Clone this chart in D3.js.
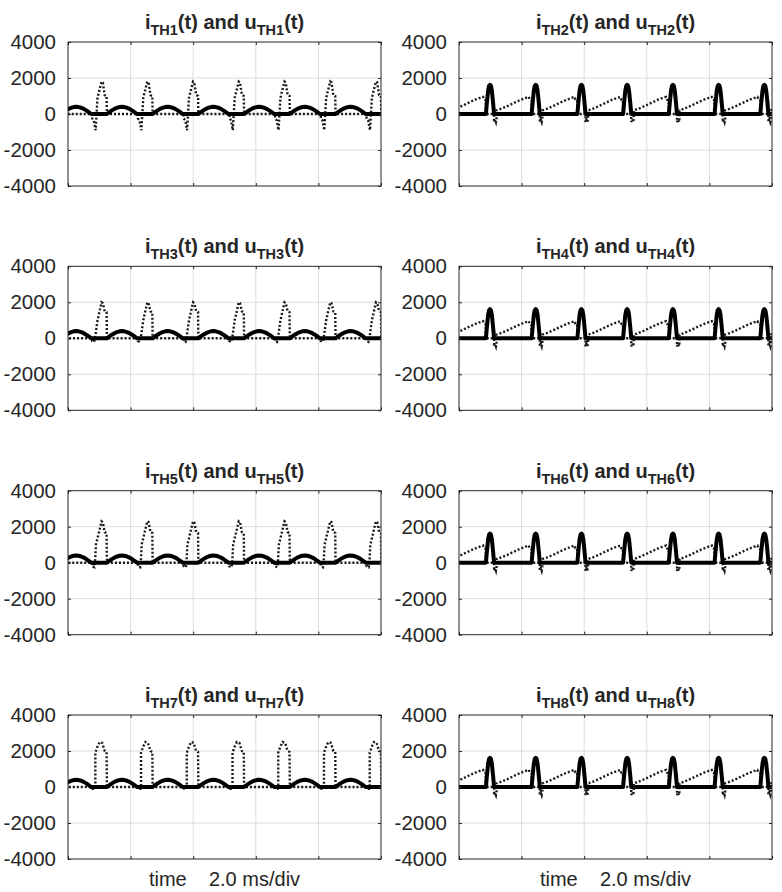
<!DOCTYPE html>
<html>
<head>
<meta charset="utf-8">
<script src="https://cdn.jsdelivr.net/npm/d3@7"></script>
<style>
  body { margin: 0; background: #fff; }
  svg { display: block; }
  text { font-family: "Liberation Sans", Arial, Helvetica, sans-serif; fill: #262626; }
</style>
</head>
<body>
<svg id="fig" width="782" height="892"></svg>
<script>
// ---- axes ----
const timeDomain = [0, 10];                 // ms, 2.0 ms/div
const timeTicks = [0, 2, 4, 6, 8, 10];
const valueDomain = [-4000, 4000];
const valueTicks = [-4000, -2000, 0, 2000, 4000];
const valueTickLabels = ["-4000", "-2000", "0", "2000", "4000"];
const xLabelText = "time    2.0 ms/div";

// ---- start time of each switching cycle (ms) ----
const oddCycleStarts  = [-0.718, 0.743, 2.204, 3.665, 5.126, 6.587, 8.048, 9.509];
const evenCycleStarts = [-0.601, 0.860, 2.321, 3.782, 5.243, 6.704, 8.165, 9.626];

// ---- one cycle of each waveform: [ms into cycle, value] ----
// odd thyristors: blocking interval, then a half-wave of current
const oddCurrentCycle = [
  [0, 0], [0.50, 0], [0.58, 103], [0.66, 200], [0.74, 283], [0.82, 346], [0.90, 386],
  [0.98, 400], [1.06, 386], [1.14, 347], [1.22, 284], [1.30, 201], [1.38, 105], [1.461, 0]
];
const uTH1Cycle = [
  [0, 0], [0.03, 0], [0.03, -250], [0.08, -350], [0.14, -900], [0.20, 900], [0.33, 1800],
  [0.37, 1750], [0.43, 1050], [0.49, 1000], [0.50, 0], [1.461, 0]
];
const uTH3Cycle = [
  [0, 0], [0.03, 0], [0.03, -150], [0.09, -200], [0.12, 0], [0.20, 1000], [0.33, 2000],
  [0.37, 1950], [0.43, 1500], [0.49, 1450], [0.50, 0], [1.461, 0]
];
const uTH5Cycle = [
  [0, 0], [0.03, 0], [0.03, -200], [0.10, -250], [0.12, 0], [0.15, 1000], [0.33, 2300],
  [0.37, 2250], [0.43, 1700], [0.49, 1650], [0.50, 0], [1.461, 0]
];
const uTH7Cycle = [
  [0, 0], [0.05, -100], [0.11, -100], [0.13, 0], [0.13, 1900], [0.20, 2250], [0.27, 2500],
  [0.35, 2450], [0.43, 2000], [0.49, 1950], [0.50, 0], [1.461, 0]
];
// even thyristors: short current pulse, then a rising blocking voltage
const evenCurrentCycle = [
  [0, 0], [0.03, 600], [0.07, 1300], [0.10, 1560], [0.13, 1620], [0.16, 1560],
  [0.19, 1300], [0.23, 600], [0.26, 0], [1.461, 0]
];
const evenVoltageCycle = [
  [0, 0], [0.26, 0], [0.26, -450], [0.29, -300], [0.32, -450], [0.34, -250], [0.34, 200],
  [0.50, 300], [0.70, 450], [0.90, 620], [1.10, 780], [1.25, 880], [1.37, 950],
  [1.40, 800], [1.455, 770], [1.461, 0]
];

// ---- panels ----
const panelNames = ["TH1", "TH2", "TH3", "TH4", "TH5", "TH6", "TH7", "TH8"];
const panelCurrents = [oddCurrentCycle, evenCurrentCycle, oddCurrentCycle, evenCurrentCycle,
                       oddCurrentCycle, evenCurrentCycle, oddCurrentCycle, evenCurrentCycle];
const panelVoltages = [uTH1Cycle, evenVoltageCycle, uTH3Cycle, evenVoltageCycle,
                       uTH5Cycle, evenVoltageCycle, uTH7Cycle, evenVoltageCycle];
const panelStarts = [oddCycleStarts, evenCycleStarts, oddCycleStarts, evenCycleStarts,
                     oddCycleStarts, evenCycleStarts, oddCycleStarts, evenCycleStarts];

// ---- layout ----
const colLeft = [68, 459];
const rowTop = [42, 266.3, 490.7, 715];
const plotW = 313, plotH = 144;

const svg = d3.select("#fig");

function buildSeries(cycle, starts) {
  const pts = [];
  starts.forEach(s => cycle.forEach(([dt, v]) => pts.push([s + dt, v])));
  return pts;
}

panelNames.forEach((name, i) => {
  const col = i % 2, row = Math.floor(i / 2);
  const g = svg.append("g").attr("transform", `translate(${colLeft[col]},${rowTop[row]})`);
  const x = d3.scaleLinear().domain(timeDomain).range([0, plotW]);
  const y = d3.scaleLinear().domain(valueDomain).range([plotH, 0]);

  // grid
  g.append("g").selectAll("line").data(timeTicks.slice(1, -1)).join("line")
    .attr("x1", d => x(d)).attr("x2", d => x(d)).attr("y1", 0).attr("y2", plotH)
    .attr("stroke", "#dcdcdc").attr("stroke-width", 1);
  g.append("g").selectAll("line").data(valueTicks.slice(1, -1)).join("line")
    .attr("y1", d => y(d)).attr("y2", d => y(d)).attr("x1", 0).attr("x2", plotW)
    .attr("stroke", "#dcdcdc").attr("stroke-width", 1);

  // traces
  const clipId = `clip${i}`;
  g.append("clipPath").attr("id", clipId).append("rect")
    .attr("x", 0).attr("y", 0).attr("width", plotW).attr("height", plotH);
  const line = d3.line().x(d => x(d[0])).y(d => y(d[1]));
  const traces = g.append("g").attr("clip-path", `url(#${clipId})`);
  traces.append("path").datum(buildSeries(panelVoltages[i], panelStarts[i]))
    .attr("d", line).attr("fill", "none").attr("stroke", "#1a1a1a")
    .attr("stroke-width", 2.4).attr("stroke-dasharray", "2 2");
  traces.append("path").datum(buildSeries(panelCurrents[i], panelStarts[i]))
    .attr("d", line).attr("fill", "none").attr("stroke", "#000")
    .attr("stroke-width", 4).attr("stroke-linejoin", "round");

  // axes (inward ticks, box)
  const yAxis = d3.axisLeft(y).tickValues(valueTicks)
    .tickFormat((d, k) => valueTickLabels[k]).tickSizeInner(-3).tickSizeOuter(0).tickPadding(12);
  const ya = g.append("g").call(yAxis);
  ya.select(".domain").remove();
  ya.selectAll("line").attr("stroke", "#262626");
  ya.selectAll("text").attr("font-size", 20.5).attr("fill", "#262626")
    .style("font-family", '"Liberation Sans", Arial, sans-serif');
  const yr = g.append("g").attr("transform", `translate(${plotW},0)`)
    .call(d3.axisRight(y).tickValues(valueTicks).tickSizeInner(-3).tickSizeOuter(0).tickFormat(""));
  yr.select(".domain").remove();
  yr.selectAll("line").attr("stroke", "#262626");
  const xb = g.append("g").attr("transform", `translate(0,${plotH})`)
    .call(d3.axisBottom(x).tickValues(timeTicks).tickSizeInner(-3).tickSizeOuter(0).tickFormat(""));
  xb.select(".domain").remove();
  xb.selectAll("line").attr("stroke", "#262626");
  const xt = g.append("g")
    .call(d3.axisTop(x).tickValues(timeTicks).tickSizeInner(-3).tickSizeOuter(0).tickFormat(""));
  xt.select(".domain").remove();
  xt.selectAll("line").attr("stroke", "#262626");
  g.append("rect").attr("width", plotW).attr("height", plotH)
    .attr("fill", "none").attr("stroke", "#262626").attr("stroke-width", 1);

  // title
  const t = g.append("text").attr("x", plotW / 2).attr("y", -13)
    .attr("text-anchor", "middle").attr("font-size", 20).attr("font-weight", "bold")
    .attr("fill", "#000");
  t.append("tspan").text("i");
  t.append("tspan").attr("dy", 6).attr("font-size", 14.5).text(name);
  t.append("tspan").attr("dy", -6).text("(t) and u");
  t.append("tspan").attr("dy", 6).attr("font-size", 14.5).text(name);
  t.append("tspan").attr("dy", -6).text("(t)");

  // x label on the bottom row
  if (row === 3) {
    g.append("text").attr("x", plotW / 2).attr("y", plotH + 27)
      .attr("text-anchor", "middle").attr("font-size", 20)
      .style("white-space", "pre").text(xLabelText);
  }
});
</script>
</body>
</html>
